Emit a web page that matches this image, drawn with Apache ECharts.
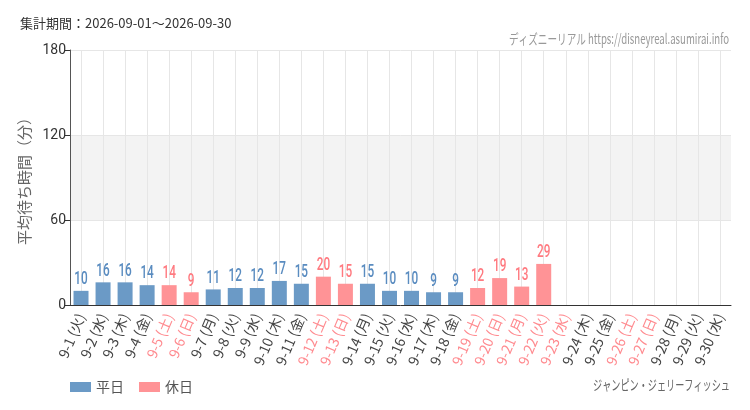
<!DOCTYPE html>
<html>
<head>
<meta charset="utf-8">
<script src="https://cdn.jsdelivr.net/npm/echarts@6/dist/echarts.min.js"></script>
<style>
  html, body { margin: 0; padding: 0; background: #fff; }
  #chart { width: 750px; height: 410px; }
</style>
</head>
<body>
<div id="chart"></div>
<script>
const days = ["9-1 (火)", "9-2 (水)", "9-3 (木)", "9-4 (金)", "9-5 (土)", "9-6 (日)", "9-7 (月)", "9-8 (火)", "9-9 (水)", "9-10 (木)",
  "9-11 (金)", "9-12 (土)", "9-13 (日)", "9-14 (月)", "9-15 (火)", "9-16 (水)", "9-17 (木)", "9-18 (金)", "9-19 (土)", "9-20 (日)",
  "9-21 (月)", "9-22 (火)", "9-23 (水)", "9-24 (木)", "9-25 (金)", "9-26 (土)", "9-27 (日)", "9-28 (月)", "9-29 (火)", "9-30 (水)"];
const holidays = ["9-5 (土)", "9-6 (日)", "9-12 (土)", "9-13 (日)", "9-19 (土)", "9-20 (日)", "9-21 (月)", "9-22 (火)", "9-23 (水)", "9-26 (土)", "9-27 (日)"];
const waits = [10, 16, 16, 14, 14, 9, 11, 12, 12, 17, 15, 20, 15, 15, 10, 10, 9, 9, 12, 19, 13, 29, null, null, null, null, null, null, null, null];
const yTicks = [0, 60, 120, 180];

const isHoliday = (d) => holidays.indexOf(d) >= 0;
const weekdayData = waits.map((v, i) => (isHoliday(days[i]) ? null : v));
const holidayData = waits.map((v, i) => (isHoliday(days[i]) ? v : null));
const labelData = waits.map((v, i) => [i, v]).filter((d) => d[1] != null);

const jpFont = "'Noto Sans CJK JP', sans-serif";

// squeeze a text into a given width (the reference uses a condensed face)
function squeezed(text, font, color, rightX, y, width) {
  const probe = new echarts.graphic.Text({ style: { text, font } });
  const w = probe.getBoundingRect().width || width;
  return {
    type: "text",
    x: rightX,
    y,
    scaleX: width / w,
    silent: true,
    style: { text, font, fill: color, x: 0, y: 0, align: "right", verticalAlign: "middle" },
  };
}

// value labels on top of the bars, drawn narrow
function renderValueLabel(params, api) {
  const idx = api.value(0);
  const val = api.value(1);
  const pt = api.coord([idx, val]);
  return {
    type: "text",
    x: pt[0],
    y: pt[1] - 2,
    scaleX: 0.62,
    silent: true,
    style: {
      text: String(val),
      x: 0,
      y: 0,
      align: "center",
      verticalAlign: "bottom",
      font: "500 19px Roboto, sans-serif",
      fill: isHoliday(days[idx]) ? "#ff7a80" : "#5a8cc0",
    },
  };
}

const chart = echarts.init(document.getElementById("chart"));
chart.setOption({
  animation: false,
  textStyle: { fontFamily: jpFont },
  grid: { left: 70, right: 19, top: 50, bottom: 105 },
  graphic: [
    { type: "text", left: 20, top: 17, style: { text: "集計期間：2026-09-01～2026-09-30", font: "13px " + jpFont, fill: "#333" } },
    squeezed("ディズニーリアル https://disneyreal.asumirai.info", "14px " + jpFont, "#999", 729, 39, 220),
    squeezed("ジャンピン・ジェリーフィッシュ", "14px " + jpFont, "#666", 730, 385, 137),
  ],
  legend: {
    left: 65,
    top: 375,
    itemWidth: 21,
    itemHeight: 10,
    itemGap: 15,
    icon: "rect",
    textStyle: { fontSize: 14, color: "#555", fontFamily: jpFont },
    data: ["平日", "休日"],
  },
  xAxis: {
    type: "category",
    data: days,
    axisLine: { lineStyle: { color: "#333" } },
    axisTick: { alignWithLabel: true, length: 5, lineStyle: { color: "#333" } },
    splitLine: { show: true, alignWithLabel: true, lineStyle: { color: "#e6e6e6" } },
    axisLabel: {
      interval: 0,
      rotate: 67,
      fontSize: 14,
      margin: 9,
      fontFamily: jpFont,
      color: (v) => (isHoliday(v) ? "#ff8a8f" : "#444"),
    },
  },
  yAxis: {
    type: "value",
    min: yTicks[0],
    max: yTicks[yTicks.length - 1],
    interval: yTicks[1] - yTicks[0],
    name: "平均待ち時間（分）",
    nameLocation: "middle",
    nameRotate: 90,
    nameGap: 36,
    nameTextStyle: { fontSize: 15, color: "#666", fontFamily: jpFont },
    axisLine: { show: true, lineStyle: { color: "#555" } },
    axisTick: { show: true, length: 5, lineStyle: { color: "#333" } },
    axisLabel: { fontSize: 14, color: "#333", fontFamily: "Roboto, sans-serif", margin: 4 },
    splitLine: { lineStyle: { color: "#e6e6e6" } },
    splitArea: { show: true, areaStyle: { color: ["rgba(255,255,255,0)", "#f3f3f3"] } },
  },
  series: [
    {
      name: "平日",
      type: "bar",
      data: weekdayData,
      barWidth: 15,
      barGap: "-100%",
      itemStyle: { color: "#6b9ac6" },
    },
    {
      name: "休日",
      type: "bar",
      data: holidayData,
      barWidth: 15,
      barGap: "-100%",
      itemStyle: { color: "#ff9396" },
    },
    {
      name: "values",
      type: "custom",
      data: labelData,
      encode: { x: 0, y: 1 },
      renderItem: renderValueLabel,
      z: 5,
    },
  ],
});
</script>
</body>
</html>
